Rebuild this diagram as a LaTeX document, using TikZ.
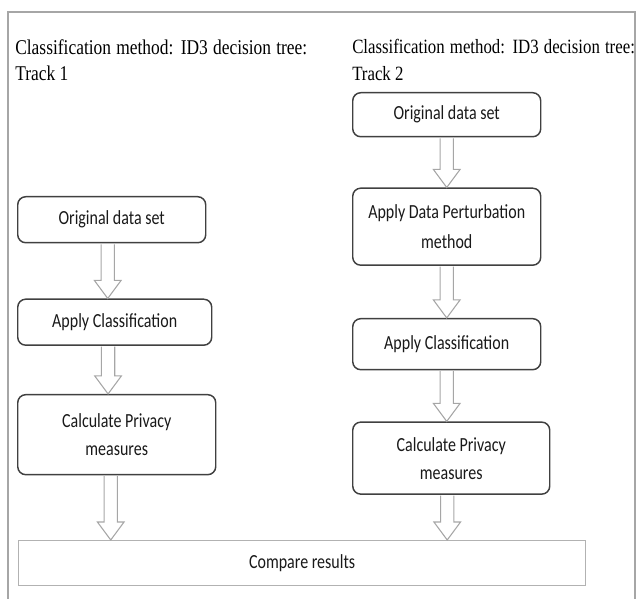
\documentclass[tikz,border=0pt]{standalone}
\usepackage{fontspec}
\newfontfamily\headfont[FakeStretch=0.83]{Liberation Serif}
\newfontfamily\boxfont[FakeStretch=0.8]{Carlito}
\usetikzlibrary{positioning, calc}
\tikzset{
	stepbox/.style={draw=black!75, line width=1.1pt, rounded corners=6pt, fill=white, align=center, inner sep=2pt, text=black!90, font=\boxfont\fontsize{15}{21}\selectfont},
	resultbox/.style={draw=black!30, line width=0.9pt, fill=white, align=center, inner sep=2pt, text=black!90, font=\boxfont\fontsize{15}{21}\selectfont},
	% track captions on top
	head/.style={anchor=north west, inner sep=0pt, text width=#1, align=justify, text=black, font=\headfont\fontsize{15.75}{20}\selectfont},
	frame/.style={draw=black!35, line width=0.8pt},
	% hollow block arrow, only the y of the target is used
	hollow/.style={draw=black!35, line width=0.8pt, fill=white, to path={let \p1=(\tikztostart), \p2=(\tikztotarget) in (\x1-5pt,\y1-0.6pt) -- (\x1-5pt,\y2+13.5pt) -- (\x1-10pt,\y2+13.5pt) -- (\x1,\y2) -- (\x1+10pt,\y2+13.5pt) -- (\x1+5pt,\y2+13.5pt) -- (\x1+5pt,\y1-0.6pt)}},
}

\begin{document}
\begin{tikzpicture}[x=0.75pt, y=-0.75pt]
	\useasboundingbox (0,0) rectangle (637,599);
	\draw[frame] (8,599) -- (8,12) -- (635,12) -- (635,599);
	
	\node (head1) [head=219pt] at (15,39) {Classification method: ID3 decision tree:\linebreak Track 1};
	\node (head2) [head=212pt, font=\headfont\fontsize{15.2}{20}\selectfont] at (352,39) {Classification method: ID3 decision tree:\linebreak Track 2};
	
	% track 1
	\node (orig1) [stepbox, anchor=north west, minimum width=141pt, minimum height=34.5pt] at (17,196) {Original data set};
	\node (class1) [stepbox, below=41.25pt of orig1.south west, anchor=north west, minimum width=145.5pt, minimum height=34.5pt] {Apply Classification};
	\node (priv1) [stepbox, below=36pt of class1.south west, anchor=north west, minimum width=148.5pt, minimum height=60pt] {Calculate Privacy\\measures};
	
	% track 2
	\node (orig2) [stepbox, anchor=north west, minimum width=141pt, minimum height=33pt] at (352,92) {Original data set};
	\node (pert2) [stepbox, below=37.5pt of orig2.south west, anchor=north west, minimum width=141pt, minimum height=57.75pt, font=\boxfont\fontsize{15}{22.5}\selectfont] {Apply Data Perturbation\\method};
	\node (class2) [stepbox, below=39pt of pert2.south west, anchor=north west, minimum width=141pt, minimum height=38.25pt] {Apply Classification};
	\node (priv2) [stepbox, below=38.25pt of class2.south west, anchor=north west, minimum width=147.75pt, minimum height=54pt] {Calculate Privacy\\measures};
	
	\node (comp) [resultbox, anchor=north west, minimum width=425.25pt, minimum height=33.75pt] at (18,540) {Compare results};
	
	\draw[hollow] ([xshift=-3pt]orig1.south) to (class1.north);
	\draw[hollow] ([xshift=-5pt]class1.south) to (priv1.north);
	\draw[hollow] ([xshift=-4.5pt]priv1.south) to (comp.north);
	
	\draw[hollow] (orig2.south) to (pert2.north);
	\draw[hollow] (pert2.south) to (class2.north);
	\draw[hollow] (class2.south) to (priv2.north);
	\draw[hollow] ([xshift=-3pt]priv2.south) to (comp.north);
	
\end{tikzpicture}
\end{document}
